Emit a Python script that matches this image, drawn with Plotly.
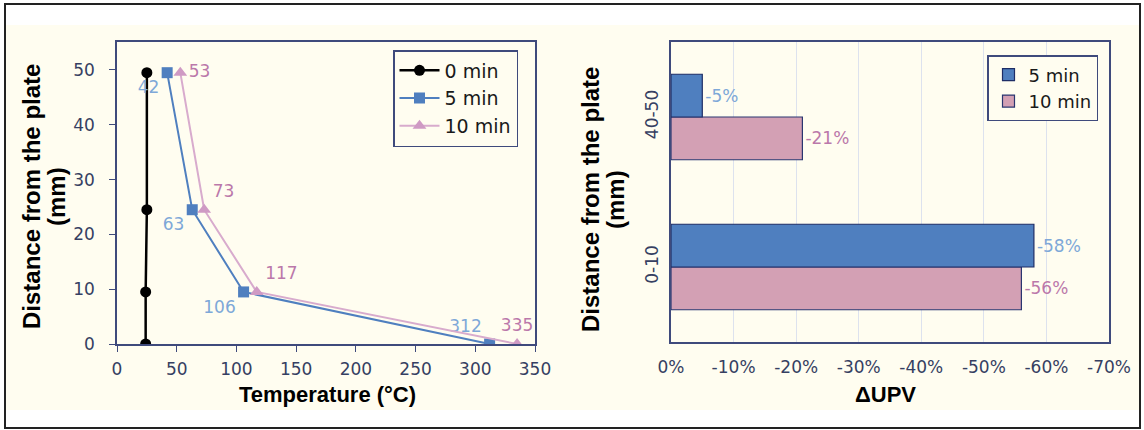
import plotly.graph_objects as go

# ---- data ----
distance = [0, 9.5, 24.5, 49.5]
temp_0min = [24, 24, 25, 25]
temp_5min = [312, 106, 63, 42]
temp_10min = [335, 117, 73, 53]
pos_5min = ["top left", "bottom left", "bottom left", "bottom left"]
pos_10min = ["top center", "top right", "top right", "middle right"]

zones = ["0-10", "40-50"]
upv_5min = [-0.58, -0.05]
upv_10min = [-0.56, -0.21]
x_ticks = [0, -0.1, -0.2, -0.3, -0.4, -0.5, -0.6, -0.7]
x_tick_labels = ["0%", "-10%", "-20%", "-30%", "-40%", "-50%", "-60%", "-70%"]

W, H = 1144, 430
CREAM = "#fffdf0"
NAVY = "#3f4a7c"
TICK = "#363f62"
BLUE = "#4f7fbf"
BLUE_LBL = "#7ea8d8"
PINK_LINE = "#d8abcd"
PINK_MK = "#cf9ac4"
PINK_LBL = "#bb78aa"
PINK_BAR = "#d3a0b4"
BOLD = "Liberation Sans, Arial, sans-serif"
REG = "DejaVu Sans, sans-serif"

def px(x):
    return x / W

def py(y):
    return 1 - y / H

fig = go.Figure()

fig.add_trace(go.Scatter(
    x=temp_0min, y=distance, name="0 min", mode="lines+markers",
    line=dict(color="black", width=2.5),
    marker=dict(symbol="circle", size=11, color="black"),
    xaxis="x", yaxis="y", legend="legend", legendgroup="a"))
fig.add_trace(go.Scatter(
    x=temp_5min, y=distance, name="5 min", mode="lines+markers+text",
    text=[str(v) for v in temp_5min], textposition=pos_5min,
    textfont=dict(color=BLUE_LBL, size=17, family=REG),
    line=dict(color=BLUE, width=2),
    marker=dict(symbol="square", size=11, color=BLUE),
    xaxis="x", yaxis="y", legend="legend", legendgroup="b"))
fig.add_trace(go.Scatter(
    x=temp_10min, y=distance, name="10 min", mode="lines+markers+text",
    text=[str(v) for v in temp_10min], textposition=pos_10min,
    textfont=dict(color=PINK_LBL, size=17, family=REG),
    line=dict(color=PINK_LINE, width=2),
    marker=dict(symbol="triangle-up", size=12, color=PINK_MK),
    xaxis="x", yaxis="y", legend="legend", legendgroup="c"))

# bars: 10 min first so 5 min sits on top within each group
fig.add_trace(go.Bar(
    y=zones, x=upv_10min, name="10 min", orientation="h",
    marker=dict(color=PINK_BAR, line=dict(color="#2a3670", width=1.2)),
    text=[f"{round(v*100)}%" for v in upv_10min], textposition="outside",
    outsidetextfont=dict(color=PINK_LBL, size=17, family=REG),
    cliponaxis=False,
    xaxis="x2", yaxis="y2", legend="legend2", legendgroup="d"))
fig.add_trace(go.Bar(
    y=zones, x=upv_5min, name="5 min", orientation="h",
    marker=dict(color=BLUE, line=dict(color="#1e2d66", width=1.2)),
    text=[f"{round(v*100)}%" for v in upv_5min], textposition="outside",
    outsidetextfont=dict(color=BLUE_LBL, size=17, family=REG),
    cliponaxis=False,
    xaxis="x2", yaxis="y2", legend="legend2", legendgroup="e"))

axis_common = dict(showline=True, linecolor=NAVY, linewidth=1.5, mirror=True,
                   tickfont=dict(size=17, color=TICK, family=REG), zeroline=False,
                   automargin=False)

def title_ann(text, x, y, size, angle=0):
    return dict(text=text, x=px(x), y=py(y), xref="paper", yref="paper",
                xanchor="center", yanchor="middle", textangle=angle,
                showarrow=False, font=dict(size=size, color="black", family=BOLD))

fig.update_layout(
    width=W, height=H,
    margin=dict(l=0, r=0, t=0, b=0, pad=0, autoexpand=False),
    paper_bgcolor="white", plot_bgcolor=CREAM,
    font=dict(family=REG),
    barmode="group", bargap=0.43, bargroupgap=0,
    xaxis=dict(domain=[px(117), px(535)], range=[0, 350], dtick=50,
               ticks="outside", ticklen=6, tickcolor=NAVY, showgrid=False,
               ticklabelstandoff=3, anchor="y", **axis_common),
    yaxis=dict(domain=[py(344), py(42)], range=[0, 55.1], tickvals=[0, 10, 20, 30, 40, 50],
               ticks="outside", ticklen=6, tickcolor=NAVY, showgrid=False,
               ticklabelstandoff=11, anchor="x", **axis_common),
    xaxis2=dict(domain=[px(671), px(1109)], range=[0, -0.7], tickvals=x_ticks,
                ticktext=x_tick_labels, showgrid=True, gridcolor="#dde2ee", gridwidth=1,
                ticks="", ticklabelstandoff=9, anchor="y2", **axis_common),
    yaxis2=dict(domain=[py(342), py(42)], type="category", categoryorder="array",
                categoryarray=zones, tickangle=-90, ticks="", showgrid=False,
                ticklabelstandoff=4, anchor="x2", **axis_common),
    legend=dict(x=px(393), y=py(50), xanchor="left", yanchor="top",
                bgcolor=CREAM, bordercolor=NAVY, borderwidth=1.5,
                font=dict(size=19, color="#1a1a1a", family=REG),
                traceorder="normal", itemwidth=40, tracegroupgap=8),
    legend2=dict(x=px(1098), y=py(55), xanchor="right", yanchor="top",
                 bgcolor=CREAM, bordercolor=NAVY, borderwidth=1.5,
                 font=dict(size=18, color="#1a1a1a", family=REG),
                 traceorder="reversed", itemwidth=30, tracegroupgap=9),
    shapes=[
        dict(type="rect", xref="paper", yref="paper", x0=px(5), x1=px(1140),
             y0=py(410), y1=py(25), fillcolor=CREAM, line=dict(width=0), layer="below"),
        dict(type="rect", xref="paper", yref="paper", x0=px(5), x1=px(1140),
             y0=py(428), y1=py(4), line=dict(color="#222", width=2), layer="above"),
    ],
    annotations=[
        title_ann("<b>Distance from the plate</b>", 31, 197, 24, -90),
        title_ann("<b>(mm)</b>", 56, 197, 24, -90),
        title_ann("<b>Temperature (°C)</b>", 327, 394, 22),
        title_ann("<b>Distance from the plate</b>", 591, 200, 24, -90),
        title_ann("<b>(mm)</b>", 616, 200, 24, -90),
        title_ann("<b>ΔUPV</b>", 885, 394, 22),
    ],
)

fig.write_html("out.html", config={"displayModeBar": False},
               post_script="document.body.style.margin='0px';")
